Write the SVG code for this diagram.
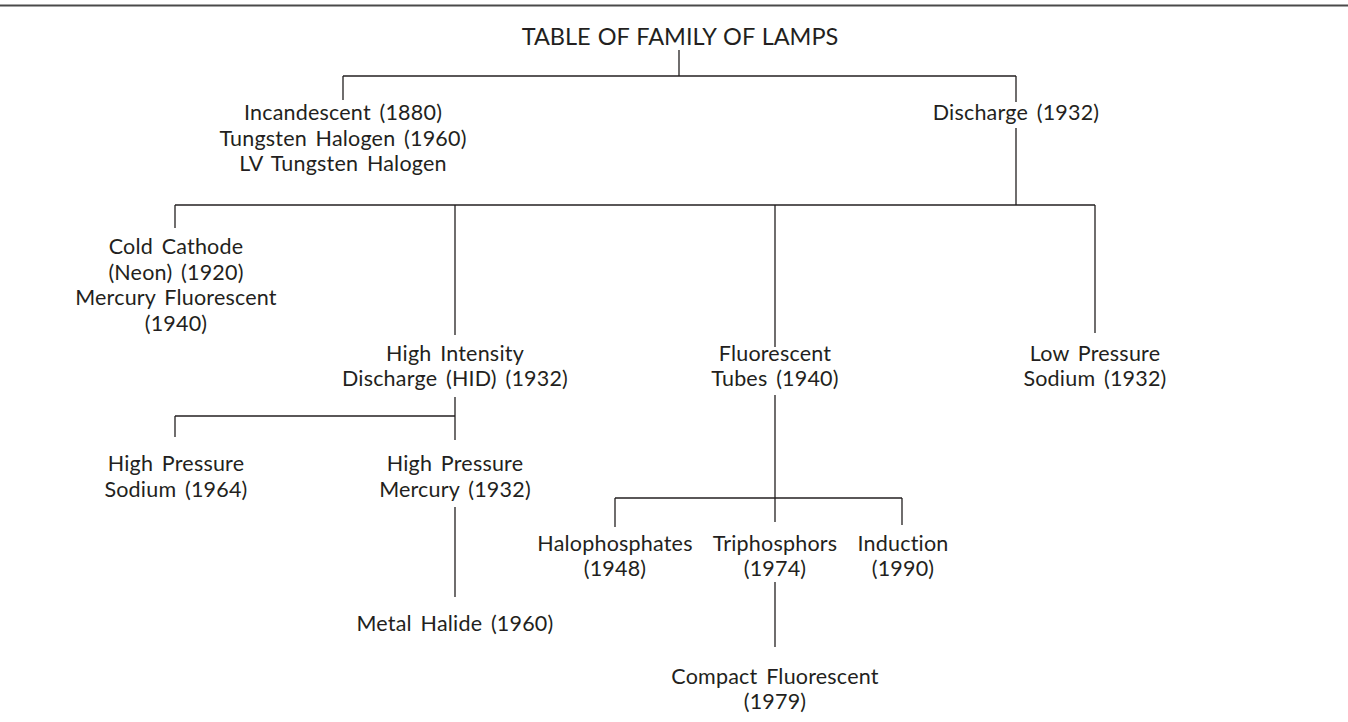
<svg xmlns="http://www.w3.org/2000/svg" width="1348" height="722" viewBox="0 0 1348 722">
<style>
text{font-family:"Lato","Open Sans","Liberation Sans",sans-serif;font-size:21.5px;fill:#231f20;text-anchor:middle;word-spacing:3px;letter-spacing:0.2px}
.t{font-size:23.5px;word-spacing:1px;letter-spacing:0}
.c line{stroke:#231f20;stroke-width:1.3}
</style>
<rect width="1348" height="722" fill="#fff"/>
<line x1="0" y1="5.5" x2="1348" y2="5.5" stroke="#4a4a4a" stroke-width="2"/>
<g class="c" id="connectors">
<line x1="679" y1="50" x2="679" y2="76"/>
<line x1="343" y1="76" x2="1016" y2="76"/>
<line x1="343" y1="76" x2="343" y2="100"/>
<line x1="1016" y1="76" x2="1016" y2="102"/>
<line x1="1016" y1="128" x2="1016" y2="205"/>
<line x1="175" y1="205" x2="1095" y2="205"/>
<line x1="175" y1="205" x2="175" y2="228"/>
<line x1="455" y1="205" x2="455" y2="335"/>
<line x1="775" y1="205" x2="775" y2="347"/>
<line x1="1095" y1="205" x2="1095" y2="333"/>
<line x1="455" y1="397" x2="455" y2="440"/>
<line x1="175" y1="416" x2="455" y2="416"/>
<line x1="175" y1="416" x2="175" y2="437"/>
<line x1="455" y1="507" x2="455" y2="597"/>
<line x1="775" y1="395" x2="775" y2="522"/>
<line x1="615" y1="498" x2="902" y2="498"/>
<line x1="615" y1="498" x2="615" y2="527"/>
<line x1="902" y1="498" x2="902" y2="525"/>
<line x1="775" y1="582" x2="775" y2="647"/>
</g>
<g id="title"><text class="t" x="680" y="45">TABLE OF FAMILY OF LAMPS</text></g>
<g id="incandescent"><text x="343" y="120">Incandescent (1880)</text><text x="343" y="145.5">Tungsten Halogen (1960)</text><text x="343" y="171">LV Tungsten Halogen</text></g>
<g id="discharge"><text x="1016" y="120">Discharge (1932)</text></g>
<g id="cold-cathode"><text x="176" y="254">Cold Cathode</text><text x="176" y="279.5">(Neon) (1920)</text><text x="176" y="305">Mercury Fluorescent</text><text x="176" y="330.5">(1940)</text></g>
<g id="hid"><text x="455" y="361">High Intensity</text><text x="455" y="386">Discharge (HID) (1932)</text></g>
<g id="fluorescent-tubes"><text x="775" y="361">Fluorescent</text><text x="775" y="386">Tubes (1940)</text></g>
<g id="low-pressure-sodium"><text x="1095" y="361">Low Pressure</text><text x="1095" y="386">Sodium (1932)</text></g>
<g id="hp-sodium"><text x="176" y="471">High Pressure</text><text x="176" y="497">Sodium (1964)</text></g>
<g id="hp-mercury"><text x="455" y="471">High Pressure</text><text x="455" y="497">Mercury (1932)</text></g>
<g id="metal-halide"><text x="455" y="631">Metal Halide (1960)</text></g>
<g id="halophosphates"><text x="615" y="550.5">Halophosphates</text><text x="615" y="576">(1948)</text></g>
<g id="triphosphors"><text x="775" y="550.5">Triphosphors</text><text x="775" y="576">(1974)</text></g>
<g id="induction"><text x="903" y="550.5">Induction</text><text x="903" y="576">(1990)</text></g>
<g id="compact-fluorescent"><text x="775" y="683.5">Compact Fluorescent</text><text x="775" y="709">(1979)</text></g>
</svg>
